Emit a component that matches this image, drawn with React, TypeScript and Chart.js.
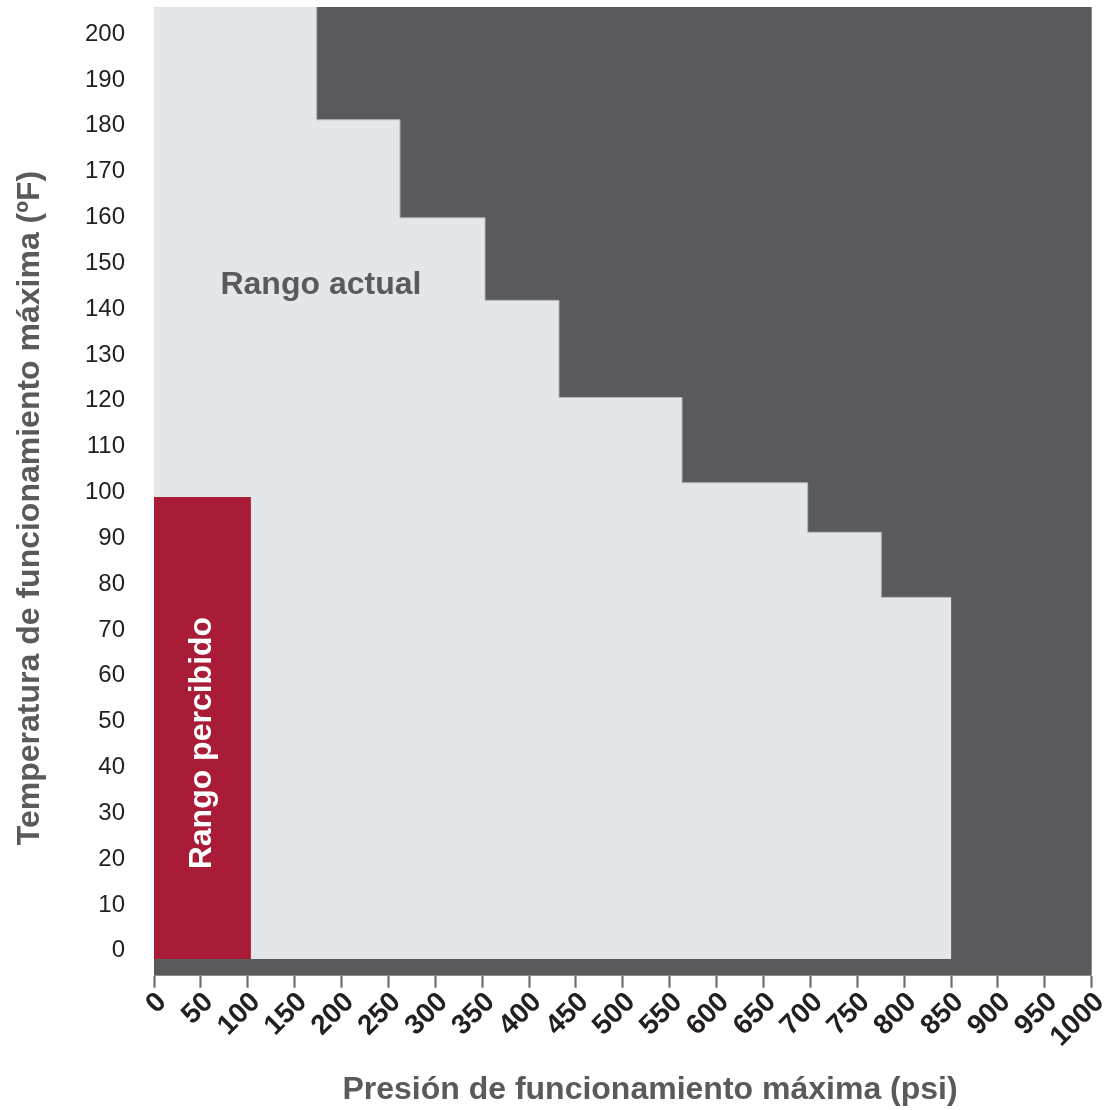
import React, { useEffect, useRef } from "react";
import { Chart, registerables } from "chart.js";

Chart.register(...registerables);

// Data
const actualStepX = [0, 173.5, 262.3, 353, 431.9, 563.1, 697.1, 775.6, 850.3];
const actualStepY = [206, 181.3, 159.9, 141.9, 120.7, 102.1, 91.3, 77.1, 77.1];
const perceivedX = [0, 103.4];
const perceivedY = [99, 99];
const baseValue = -1.8;
const yTickValues = [0, 10, 20, 30, 40, 50, 60, 70, 80, 90, 100, 110, 120, 130, 140, 150, 160, 170, 180, 190, 200];
const xTickStep = 50;
const labelTexts = ["Rango actual", "Rango percibido"];
const labelPos = [
  { x: 178, y: 145.2, rot: 0 },
  { x: 51.5, y: 45.3, rot: -90 },
];
const xTitle = "Presión de funcionamiento máxima (psi)";
const yTitle = "Temperatura de funcionamiento máxima (ºF)";

const DARK = "#5a5a5c";
const LIGHT = "#e3e7e8";
const RED = "#a91c37";
const TICK_TEXT = "#231f20";
const FONT = "'Liberation Sans', Arial, sans-serif";

const bgPlugin = {
  id: "bgPlugin",
  beforeDraw(chart: any) {
    const { ctx, chartArea } = chart;
    ctx.save();
    ctx.fillStyle = DARK;
    ctx.fillRect(chartArea.left, chartArea.top, chartArea.right - chartArea.left, chartArea.bottom - chartArea.top);
    ctx.restore();
  },
};

const textPlugin = {
  id: "textPlugin",
  afterDatasetsDraw(chart: any) {
    const { ctx, scales } = chart;
    const xs = scales.x;
    const ys = scales.y;
    labelTexts.forEach((t, i) => {
      const p = labelPos[i];
      const px = xs.getPixelForValue(p.x);
      const py = ys.getPixelForValue(p.y);
      ctx.save();
      ctx.translate(px, py);
      ctx.rotate((p.rot * Math.PI) / 180);
      ctx.font = `bold 32px ${FONT}`;
      ctx.fillStyle = i === 0 ? DARK : "#ffffff";
      ctx.textAlign = "center";
      ctx.textBaseline = "middle";
      ctx.fillText(t, 0, 0);
      ctx.restore();
    });
  },
  afterDraw(chart: any) {
    const { ctx, scales, chartArea } = chart;
    const xs = scales.x;
    // rotated x tick labels
    ctx.save();
    ctx.font = `bold 28px ${FONT}`;
    ctx.fillStyle = TICK_TEXT;
    ctx.textAlign = "right";
    ctx.textBaseline = "middle";
    xs.ticks.forEach((t: any) => {
      const px = xs.getPixelForValue(t.value);
      ctx.save();
      ctx.translate(px + 8, chartArea.bottom + 22);
      ctx.rotate(-Math.PI / 4);
      ctx.fillText(String(t.value), 0, 0);
      ctx.restore();
    });
    ctx.restore();
    // axis titles
    ctx.save();
    ctx.font = `bold 32px ${FONT}`;
    ctx.fillStyle = DARK;
    ctx.textAlign = "center";
    ctx.textBaseline = "middle";
    ctx.fillText(xTitle, 650, 1090);
    ctx.translate(30, 508);
    ctx.rotate(-Math.PI / 2);
    ctx.fillText(yTitle, 0, 0);
    ctx.restore();
  },
};

export default function App() {
  const ref = useRef<HTMLCanvasElement | null>(null);
  useEffect(() => {
    if (!ref.current) return;
    const chart = new Chart(ref.current, {
      type: "line",
      data: {
        datasets: [
          {
            data: perceivedX.map((x, i) => ({ x, y: perceivedY[i] })),
            stepped: "before",
            fill: { value: baseValue },
            backgroundColor: RED,
            borderColor: RED,
            borderWidth: 0,
            pointRadius: 0,
          },
          {
            data: actualStepX.map((x, i) => ({ x, y: actualStepY[i] })),
            stepped: "before",
            fill: { value: baseValue },
            backgroundColor: LIGHT,
            borderColor: "#b4b6b8",
            borderWidth: 1,
            pointRadius: 0,
          },
        ],
      },
      plugins: [bgPlugin, textPlugin],
      options: {
        animation: false,
        responsive: false,
        events: [],
        layout: { padding: { left: 0, right: 13.3, top: 7, bottom: 0 } },
        plugins: { legend: { display: false }, tooltip: { enabled: false } },
        scales: {
          x: {
            type: "linear",
            min: 0,
            max: 1000,
            afterFit(scale: any) {
              scale.height = 1110 - 975.7;
              scale.paddingLeft = 0;
              scale.paddingRight = 0;
            },
            ticks: {
              stepSize: xTickStep,
              autoSkip: false,
              display: false,
            },
            grid: {
              drawOnChartArea: false,
              drawTicks: true,
              tickLength: 12,
              tickColor: "#6d6e70",
              tickWidth: 2.2,
            },
            border: { display: false },
          },
          y: {
            type: "linear",
            min: -5.45,
            max: 205.9,
            afterFit(scale: any) {
              scale.width = 154;
              scale.paddingTop = 0;
              scale.paddingBottom = 0;
            },
            afterBuildTicks(scale: any) {
              scale.ticks = yTickValues.map((v) => ({ value: v }));
            },
            ticks: {
              padding: 29,
              color: TICK_TEXT,
              font: { family: FONT, size: 24 },
            },
            grid: { display: false, drawTicks: false },
            border: { display: false },
          },
        },
      },
    });
    return () => chart.destroy();
  }, []);
  return (
    <div style={{ position: "fixed", left: 0, top: 0, width: 1105, height: 1110, background: "#fff" }}>
      <canvas ref={ref} width={1105} height={1110} style={{ width: 1105, height: 1110 }} />
    </div>
  );
}
